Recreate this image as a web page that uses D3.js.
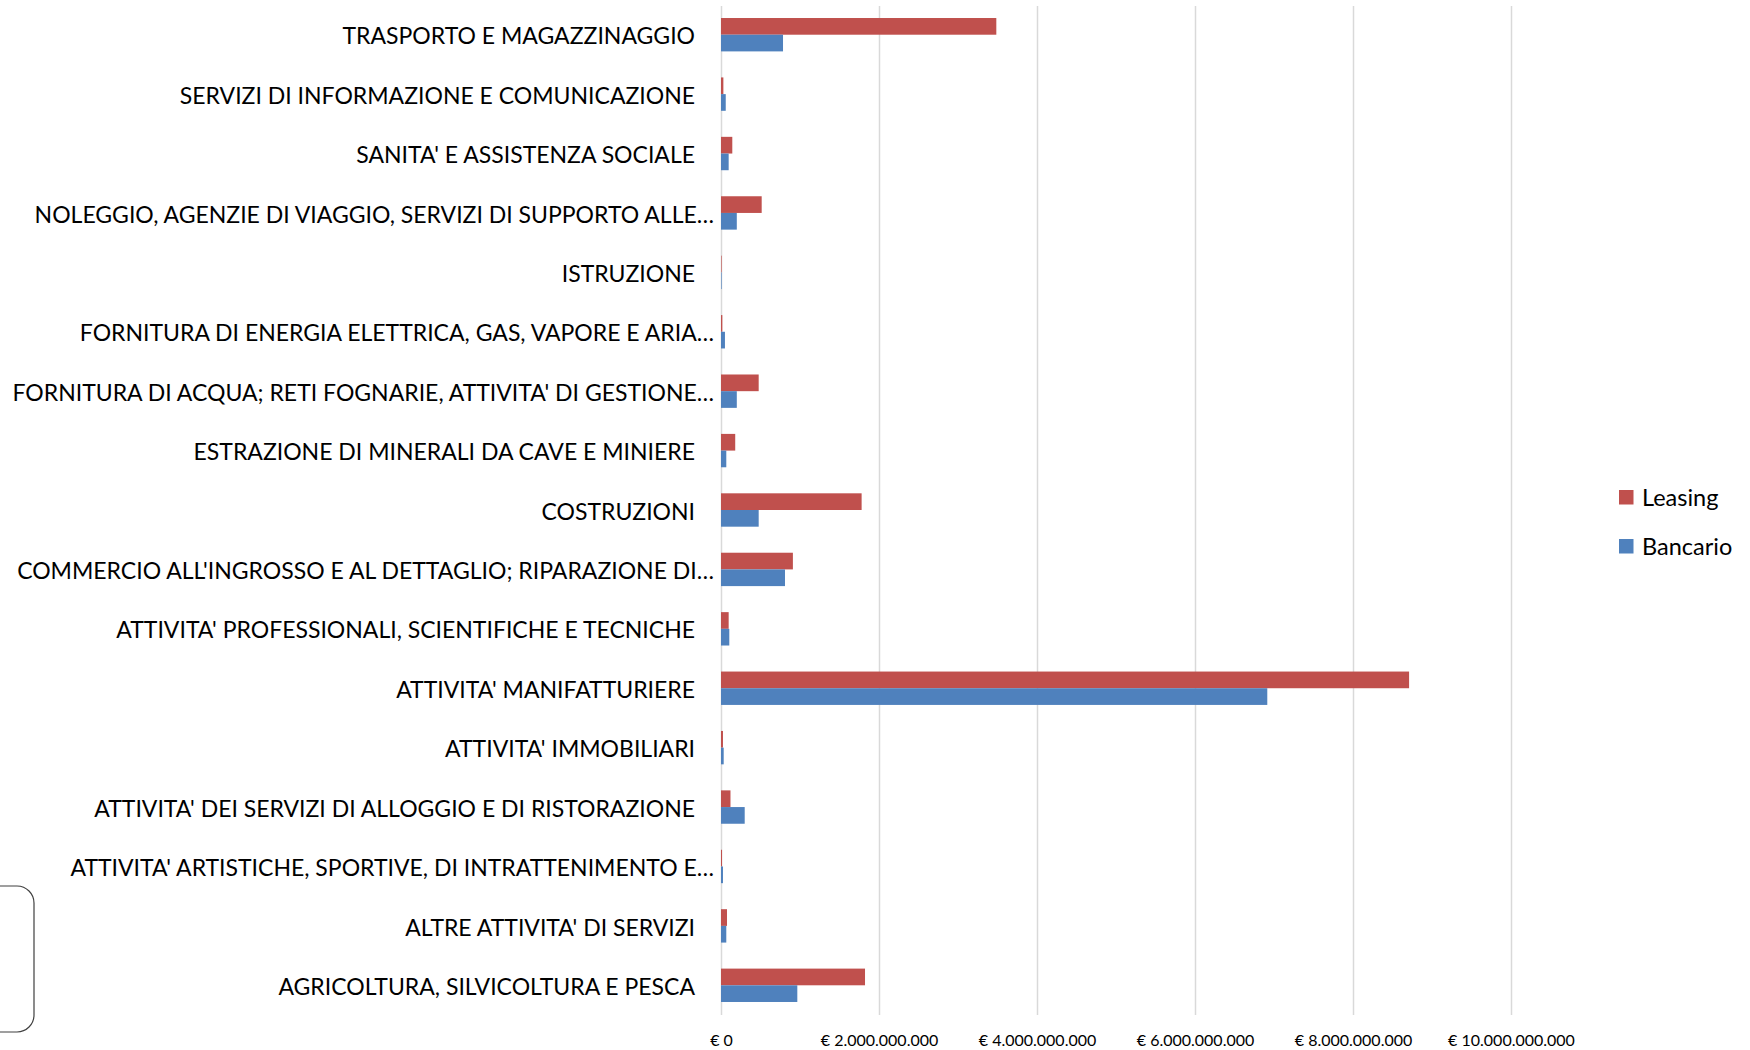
<!DOCTYPE html>
<html>
<head>
<meta charset="utf-8">
<script src="https://cdn.jsdelivr.net/npm/d3@7"></script>
<style>
  body { margin: 0; background: #fff; }
  text { font-family: Lato, "Open Sans", sans-serif; fill: #000; }
</style>
</head>
<body>
<div id="chart"></div>
<script>
// categories top to bottom, as in the picture
const categories = [
  "TRASPORTO E MAGAZZINAGGIO",
  "SERVIZI DI INFORMAZIONE E COMUNICAZIONE",
  "SANITA' E ASSISTENZA SOCIALE",
  "NOLEGGIO, AGENZIE DI VIAGGIO, SERVIZI DI SUPPORTO ALLE…",
  "ISTRUZIONE",
  "FORNITURA DI ENERGIA ELETTRICA, GAS, VAPORE E ARIA…",
  "FORNITURA DI ACQUA; RETI FOGNARIE, ATTIVITA' DI GESTIONE…",
  "ESTRAZIONE DI MINERALI DA CAVE E MINIERE",
  "COSTRUZIONI",
  "COMMERCIO ALL'INGROSSO E AL DETTAGLIO; RIPARAZIONE DI…",
  "ATTIVITA' PROFESSIONALI, SCIENTIFICHE E TECNICHE",
  "ATTIVITA' MANIFATTURIERE",
  "ATTIVITA' IMMOBILIARI",
  "ATTIVITA' DEI SERVIZI DI ALLOGGIO E DI RISTORAZIONE",
  "ATTIVITA' ARTISTICHE, SPORTIVE, DI INTRATTENIMENTO E…",
  "ALTRE ATTIVITA' DI SERVIZI",
  "AGRICOLTURA, SILVICOLTURA E PESCA"
];

const seriesNames = ["Leasing", "Bancario"];

// euro
const leasing = [
  3.485e9, 0.03e9, 0.143e9, 0.515e9, 0.005e9, 0.017e9, 0.477e9, 0.18e9, 1.78e9,
  0.91e9, 0.097e9, 8.71e9, 0.025e9, 0.12e9, 0.013e9, 0.076e9, 1.823e9
];
const bancario = [
  0.785e9, 0.06e9, 0.097e9, 0.2e9, 0.003e9, 0.05e9, 0.2e9, 0.067e9, 0.477e9,
  0.81e9, 0.105e9, 6.915e9, 0.034e9, 0.3e9, 0.025e9, 0.067e9, 0.966e9
];

const xTicks = [0, 2e9, 4e9, 6e9, 8e9, 10e9];

const colors = { Leasing: "#C0504D", Bancario: "#4F81BD" };

const width = 1750, height = 1050;
const plot = { left: 721, right: 1511, top: 5, bottom: 1015 };

const it = d3.formatLocale({ decimal: ",", thousands: ".", grouping: [3], currency: ["€ ", ""] });
const fmt = it.format("$,");

const data = categories.map((c, i) => ({
  cat: c,
  values: [
    { key: "Leasing", value: leasing[i] },
    { key: "Bancario", value: bancario[i] }
  ]
}));

const svg = d3.select("#chart").append("svg")
  .attr("width", width)
  .attr("height", height);

svg.append("rect").attr("width", width).attr("height", height).attr("fill", "#fff");

const x = d3.scaleLinear()
  .domain([0, 10e9])
  .range([plot.left, plot.right]);

const y0 = d3.scaleBand()
  .domain(categories)
  .range([plot.top, plot.bottom]);

const y1 = d3.scaleBand()
  .domain(seriesNames)
  .range([0, y0.bandwidth()])
  .paddingOuter(0.78);

// gridlines (incl. the zero line)
const grid = svg.append("g")
  .attr("transform", `translate(0,${plot.bottom})`)
  .call(d3.axisBottom(x).tickValues(xTicks).tickSize(-(plot.bottom - plot.top - 1)).tickFormat(""));
grid.select(".domain").remove();
grid.selectAll(".tick line").attr("stroke", "#d9d9d9").attr("stroke-width", 1.5);

// tick labels
const xAxisG = svg.append("g")
  .attr("transform", `translate(0,${plot.bottom})`)
  .call(d3.axisBottom(x).tickValues(xTicks).tickSize(0).tickPadding(20).tickFormat(fmt));
xAxisG.select(".domain").remove();
xAxisG.selectAll("text")
  .style("font-family", "Lato, sans-serif")
  .style("font-size", "16px")
  .attr("fill", "#000");

// bars
const groups = svg.append("g").selectAll("g")
  .data(data)
  .join("g")
  .attr("transform", d => `translate(0,${y0(d.cat)})`);

groups.selectAll("rect")
  .data(d => d.values)
  .join("rect")
  .attr("x", x(0))
  .attr("y", d => y1(d.key))
  .attr("width", d => Math.max(0.6, x(d.value) - x(0)))
  .attr("height", y1.bandwidth())
  .attr("fill", d => colors[d.key]);

// category labels
const yAxisG = svg.append("g")
  .attr("transform", `translate(${plot.left},0)`)
  .call(d3.axisLeft(y0).tickSize(0).tickPadding(26));
yAxisG.select(".domain").remove();
yAxisG.selectAll("text")
  .style("font-family", "Lato, sans-serif")
  .style("font-size", "23px")
  .attr("fill", "#000")
  .attr("dy", "0.42em")
  .attr("x", d => d.endsWith("…") ? -7 : -26);

// legend
const legend = svg.append("g")
  .selectAll("g")
  .data(seriesNames)
  .join("g")
  .attr("transform", (d, i) => `translate(1619,${490 + i * 49})`);

legend.append("rect")
  .attr("width", 14.5)
  .attr("height", 14.5)
  .attr("fill", d => colors[d]);

legend.append("text")
  .attr("x", 23)
  .attr("y", 15.5)
  .style("font-size", "23.5px")
  .text(d => d);

// stray rounded frame at the bottom left
svg.append("rect")
  .attr("x", -20)
  .attr("y", 886)
  .attr("width", 54)
  .attr("height", 146)
  .attr("rx", 17)
  .attr("fill", "none")
  .attr("stroke", "#404040")
  .attr("stroke-width", 1.2);
</script>
</body>
</html>
